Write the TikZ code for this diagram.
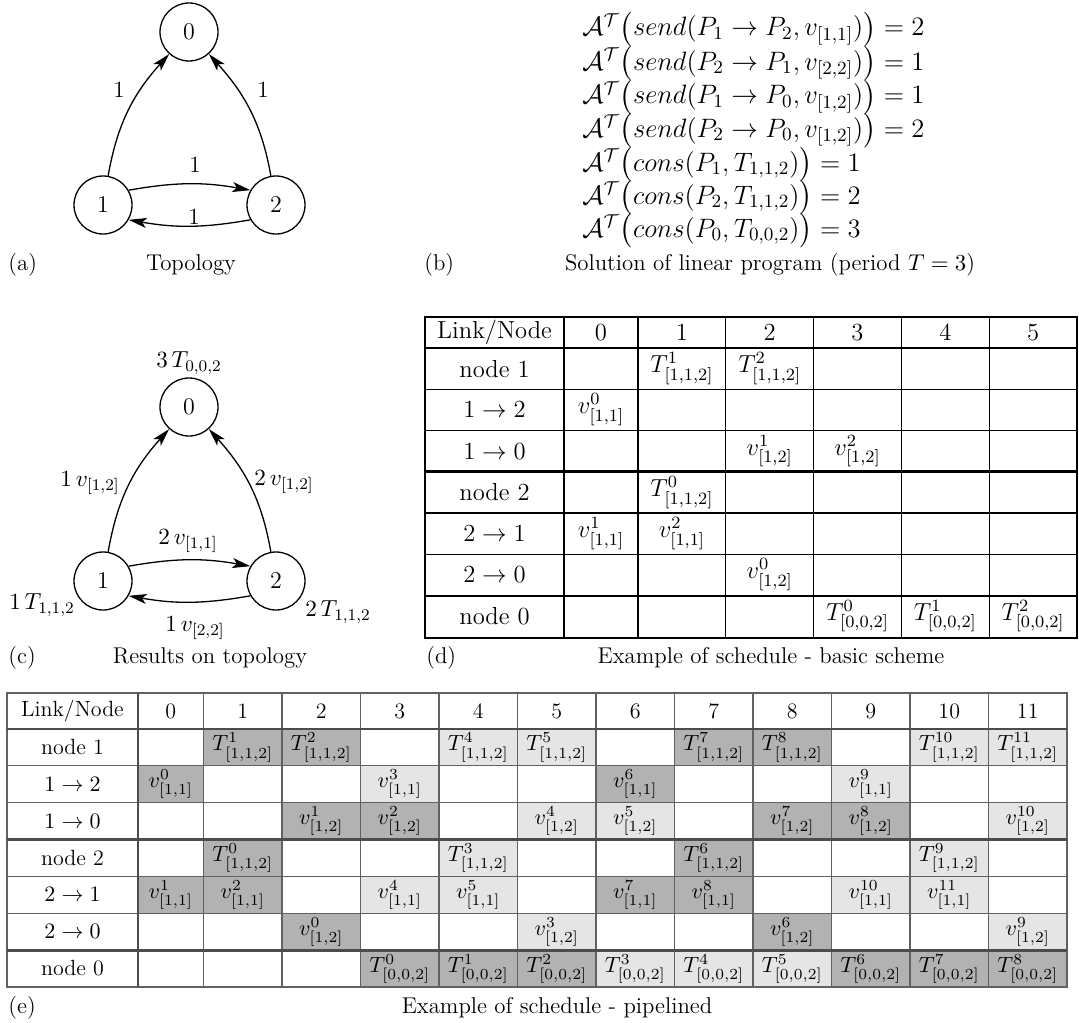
\RequirePackage{fix-cm}
\documentclass[tikz,border=0pt]{standalone}
\usepackage{amsmath}
\usetikzlibrary{arrows.meta}
\tikzset{
  gnode/.style={circle, draw, line width=0.65pt, minimum size=29pt, inner sep=0pt, font=\fontsize{12}{14}\selectfont},
  garrow/.style={line width=0.65pt, -{Stealth[length=9pt,width=5pt,inset=2.2pt]}},
  glabel/.style={font=\fontsize{11.6}{13}\selectfont, inner sep=1pt},
  captext/.style={font=\fontsize{11.4}{13}\selectfont, inner sep=0pt},
  eqn/.style={anchor=base west, font=\fontsize{13.3}{16}\selectfont, inner sep=0pt},
  dtext/.style={font=\fontsize{12.3}{14}\selectfont, inner sep=0pt},
  etext/.style={font=\fontsize{11}{13}\selectfont, inner sep=0pt},
  dthin/.style={line width=0.6pt, black},
  dthick/.style={line width=1.4pt, black},
  ethin/.style={line width=0.6pt, black!62},
  ethick/.style={line width=1.4pt, black!70},
  darkcell/.style={fill=black!30},
  lightcell/.style={fill=black!10},
}
\newcommand\dcell[3]{%
  \pgfmathsetmacro\xa{#1==0 ? 564 : 638+(#1-1)*87.8}%
  \pgfmathsetmacro\xb{#1==0 ? 638 : 638+#1*87.8}%
  \pgfmathsetmacro\ya{348+(#2-1)*41.25}%
  \pgfmathsetmacro\yb{348+#2*41.25}%
  \node[dtext] (d-#2-#1) at ({(\xa+\xb)/2},{(\ya+\yb)/2}) {$#3$};}
\newcommand\ecell[4]{%
  \pgfmathsetmacro\xa{#1==0 ? 138 : 203.5+(#1-1)*78.5}%
  \pgfmathsetmacro\xb{#1==0 ? 203.5 : 203.5+#1*78.5}%
  \pgfmathsetmacro\ya{729+(#2-1)*36.85}%
  \pgfmathsetmacro\yb{729+#2*36.85}%
  \fill[#3] (\xa,\ya) rectangle (\xb,\yb);
  \node[etext] (e-#2-#1) at ({(\xa+\xb)/2},{(\ya+\yb)/2}) {$#4$};}
\begin{document}
\begin{tikzpicture}[x=0.5pt,y=-0.5pt]
\useasboundingbox (0,0) rectangle (1079,1022);

% ---------------- (a) topology
\node[gnode] (a0) at (189,32) {0};
\node[gnode] (a1) at (103,205) {1};
\node[gnode] (a2) at (276,205) {2};
\draw[garrow] (a1) to[out=80,in=228] (a0);
\draw[garrow] (a2) to[out=100,in=-48] (a0);
\draw[garrow] (a1.30) to[bend left=10] (a2.150);
\draw[garrow] (a2.-150) to[bend left=10] (a1.-30);
\node[glabel] (la10) at (119,90) {1};
\node[glabel] (la20) at (263,90) {1};
\node[glabel] (la12) at (195,165) {1};
\node[glabel] (la21) at (194,217) {1};
\node[captext, anchor=west] (capa) at (8,265) {(a)};
\node[captext] (capat) at (191,265) {Topology};

% ---------------- (b) equations
\node[eqn] (eq1) at (582,36) {$\mathcal{A}^{\mathcal{T}}\bigl(send(P_1\to P_2,v_{[1,1]})\bigr)=2$};
\node[eqn] (eq2) at (582,70) {$\mathcal{A}^{\mathcal{T}}\bigl(send(P_2\to P_1,v_{[2,2]})\bigr)=1$};
\node[eqn] (eq3) at (582,104) {$\mathcal{A}^{\mathcal{T}}\bigl(send(P_1\to P_0,v_{[1,2]})\bigr)=1$};
\node[eqn] (eq4) at (582,137) {$\mathcal{A}^{\mathcal{T}}\bigl(send(P_2\to P_0,v_{[1,2]})\bigr)=2$};
\node[eqn] (eq5) at (582,171) {$\mathcal{A}^{\mathcal{T}}\bigl(cons(P_1,T_{1,1,2})\bigr)=1$};
\node[eqn] (eq6) at (582,204) {$\mathcal{A}^{\mathcal{T}}\bigl(cons(P_2,T_{1,1,2})\bigr)=2$};
\node[eqn] (eq7) at (582,237) {$\mathcal{A}^{\mathcal{T}}\bigl(cons(P_0,T_{0,0,2})\bigr)=3$};
\node[captext, anchor=west] (capb) at (424,265) {(b)};
\node[captext] (capbt) at (770,265) {Solution of linear program (period $T=3$)};

% ---------------- (c) results on topology
\node[gnode] (c0) at (189,407) {0};
\node[gnode] (c1) at (103,581) {1};
\node[gnode] (c2) at (276,581) {2};
\draw[garrow] (c1) to[out=80,in=228] (c0);
\draw[garrow] (c2) to[out=100,in=-48] (c0);
\draw[garrow] (c1.30) to[bend left=10] (c2.150);
\draw[garrow] (c2.-150) to[bend left=10] (c1.-30);
\node[glabel] (lc0) at (189,363) {$3\,T_{0,0,2}$};
\node[glabel] (lc10) at (90,483) {$1\,v_{[1,2]}$};
\node[glabel] (lc20) at (284,482) {$2\,v_{[1,2]}$};
\node[glabel] (lc12) at (188,541) {$2\,v_{[1,1]}$};
\node[glabel] (lc21) at (195,628) {$1\,v_{[2,2]}$};
\node[glabel] (lc1) at (42,605) {$1\,T_{1,1,2}$};
\node[glabel] (lc2) at (338,612) {$2\,T_{1,1,2}$};
\node[captext, anchor=west] (capc) at (8,658) {(c)};
\node[captext] (capct) at (210,658) {Results on topology};

% ---------------- (d) basic schedule
\node[dtext] (dh) at (494.5,332.5) {Link/Node};
\foreach \k in {0,...,5} {
  \pgfmathsetmacro\xc{\k==0 ? 601 : 638+(\k-0.5)*87.8}
  \node[dtext] (dh\k) at (\xc,332.5) {\k};
}
\foreach \r/\t in {1/node 1,2/$1\to 2$,3/$1\to 0$,4/node 2,5/$2\to 1$,6/$2\to 0$,7/node 0} {
  \node[dtext] (dr\r) at (494.5,{348+(\r-0.5)*41.25}) {\t};
}
\dcell{1}{1}{T^{1}_{[1,1,2]}}
\dcell{2}{1}{T^{2}_{[1,1,2]}}
\dcell{0}{2}{v^{0}_{[1,1]}}
\dcell{2}{3}{v^{1}_{[1,2]}}
\dcell{3}{3}{v^{2}_{[1,2]}}
\dcell{1}{4}{T^{0}_{[1,1,2]}}
\dcell{0}{5}{v^{1}_{[1,1]}}
\dcell{1}{5}{v^{2}_{[1,1]}}
\dcell{2}{6}{v^{0}_{[1,2]}}
\dcell{3}{7}{T^{0}_{[0,0,2]}}
\dcell{4}{7}{T^{1}_{[0,0,2]}}
\dcell{5}{7}{T^{2}_{[0,0,2]}}
\draw[dthin] (425,317) rectangle (1077,638);
\foreach \xx in {638,725.8,813.6,901.4,989.2} \draw[dthin] (\xx,317) -- (\xx,638);
\foreach \yy in {389.25,430.5,513,554.25} \draw[dthin] (425,\yy) -- (1077,\yy);
\draw[dthick] (564,317) -- (564,638);
\foreach \yy in {348,471.75,596} \draw[dthick] (425,\yy) -- (1077,\yy);
\node[captext, anchor=west] (capd) at (426,658) {(d)};
\node[captext] (capdt) at (771,658) {Example of schedule - basic scheme};

% ---------------- (e) pipelined schedule
% node 1
\ecell{1}{1}{darkcell}{T^{1}_{[1,1,2]}}
\ecell{2}{1}{darkcell}{T^{2}_{[1,1,2]}}
\ecell{4}{1}{lightcell}{T^{4}_{[1,1,2]}}
\ecell{5}{1}{lightcell}{T^{5}_{[1,1,2]}}
\ecell{7}{1}{darkcell}{T^{7}_{[1,1,2]}}
\ecell{8}{1}{darkcell}{T^{8}_{[1,1,2]}}
\ecell{10}{1}{lightcell}{T^{10}_{[1,1,2]}}
\ecell{11}{1}{lightcell}{T^{11}_{[1,1,2]}}
% 1 -> 2
\ecell{0}{2}{darkcell}{v^{0}_{[1,1]}}
\ecell{3}{2}{lightcell}{v^{3}_{[1,1]}}
\ecell{6}{2}{darkcell}{v^{6}_{[1,1]}}
\ecell{9}{2}{lightcell}{v^{9}_{[1,1]}}
% 1 -> 0
\ecell{2}{3}{darkcell}{v^{1}_{[1,2]}}
\ecell{3}{3}{darkcell}{v^{2}_{[1,2]}}
\ecell{5}{3}{lightcell}{v^{4}_{[1,2]}}
\ecell{6}{3}{lightcell}{v^{5}_{[1,2]}}
\ecell{8}{3}{darkcell}{v^{7}_{[1,2]}}
\ecell{9}{3}{darkcell}{v^{8}_{[1,2]}}
\ecell{11}{3}{lightcell}{v^{10}_{[1,2]}}
% node 2
\ecell{1}{4}{darkcell}{T^{0}_{[1,1,2]}}
\ecell{4}{4}{lightcell}{T^{3}_{[1,1,2]}}
\ecell{7}{4}{darkcell}{T^{6}_{[1,1,2]}}
\ecell{10}{4}{lightcell}{T^{9}_{[1,1,2]}}
% 2 -> 1
\ecell{0}{5}{darkcell}{v^{1}_{[1,1]}}
\ecell{1}{5}{darkcell}{v^{2}_{[1,1]}}
\ecell{3}{5}{lightcell}{v^{4}_{[1,1]}}
\ecell{4}{5}{lightcell}{v^{5}_{[1,1]}}
\ecell{6}{5}{darkcell}{v^{7}_{[1,1]}}
\ecell{7}{5}{darkcell}{v^{8}_{[1,1]}}
\ecell{9}{5}{lightcell}{v^{10}_{[1,1]}}
\ecell{10}{5}{lightcell}{v^{11}_{[1,1]}}
% 2 -> 0
\ecell{2}{6}{darkcell}{v^{0}_{[1,2]}}
\ecell{5}{6}{lightcell}{v^{3}_{[1,2]}}
\ecell{8}{6}{darkcell}{v^{6}_{[1,2]}}
\ecell{11}{6}{lightcell}{v^{9}_{[1,2]}}
% node 0
\ecell{3}{7}{darkcell}{T^{0}_{[0,0,2]}}
\ecell{4}{7}{darkcell}{T^{1}_{[0,0,2]}}
\ecell{5}{7}{darkcell}{T^{2}_{[0,0,2]}}
\ecell{6}{7}{lightcell}{T^{3}_{[0,0,2]}}
\ecell{7}{7}{lightcell}{T^{4}_{[0,0,2]}}
\ecell{8}{7}{lightcell}{T^{5}_{[0,0,2]}}
\ecell{9}{7}{darkcell}{T^{6}_{[0,0,2]}}
\ecell{10}{7}{darkcell}{T^{7}_{[0,0,2]}}
\ecell{11}{7}{darkcell}{T^{8}_{[0,0,2]}}
\node[etext] (eh) at (72.5,711) {Link/Node};
\foreach \k in {0,...,11} {
  \pgfmathsetmacro\xc{\k==0 ? 170.75 : 203.5+(\k-0.5)*78.5}
  \node[etext] (eh\k) at (\xc,711) {\k};
}
\foreach \r/\t in {1/node 1,2/$1\to 2$,3/$1\to 0$,4/node 2,5/$2\to 1$,6/$2\to 0$,7/node 0} {
  \node[etext] (er\r) at (72.5,{729+(\r-0.5)*36.85}) {\t};
}
\draw[ethin] (7,693) rectangle (1067,987);
\foreach \k in {0,...,11} \draw[ethin] ({203.5+\k*78.5},693) -- ({203.5+\k*78.5},987);
\foreach \yy in {765.85,802.7,876.4,913.25} \draw[ethin] (7,\yy) -- (1067,\yy);
\draw[ethick] (138,693) -- (138,987);
\foreach \yy in {729,839.55,950.1} \draw[ethick] (7,\yy) -- (1067,\yy);
\node[captext, anchor=west] (cape) at (8,1008) {(e)};
\node[captext] (capet) at (557,1008) {Example of schedule - pipelined};
\end{tikzpicture}
\end{document}
